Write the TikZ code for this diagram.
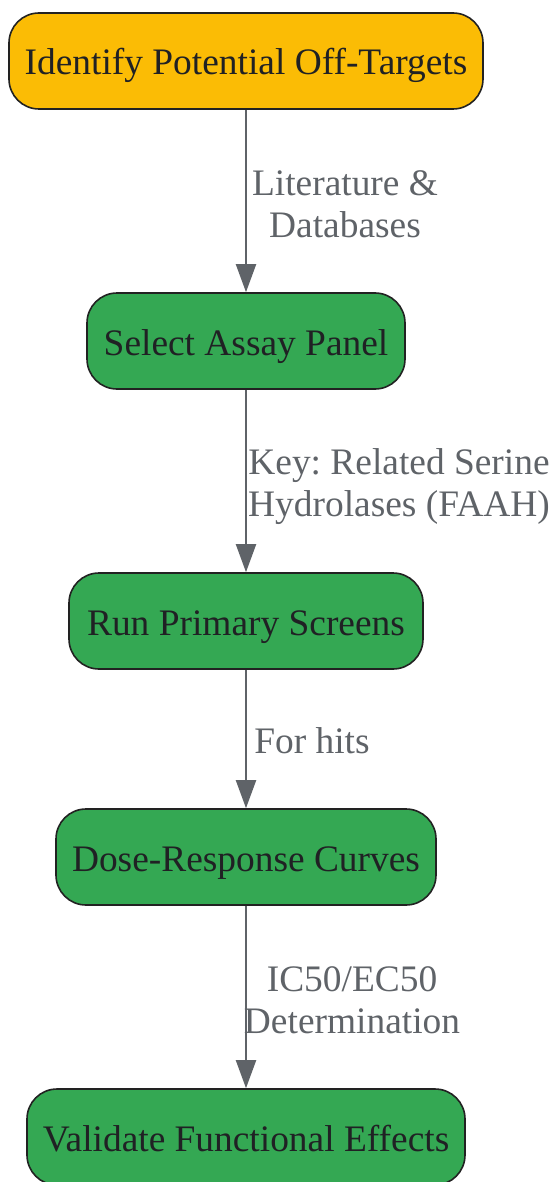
\documentclass[tikz,border=0pt]{standalone}
\usepackage{fontspec}
\setmainfont{Liberation Serif}
\usetikzlibrary{arrows.meta}
\frenchspacing
\definecolor{boxyellow}{HTML}{FBBC05}
\definecolor{boxgreen}{HTML}{34A853}
\definecolor{boxline}{HTML}{222222}
\definecolor{edgegray}{HTML}{5F6368}
\definecolor{textdark}{HTML}{202124}
\tikzset{
  flowbox/.style={draw=boxline, line width=1.6pt, rounded corners=30pt, text=textdark,
    font=\fontsize{37.4}{42}\selectfont, anchor=center, inner sep=0pt,
    text height=28pt, text depth=0pt, minimum height=96pt},
  edgelabel/.style={text=edgegray, font=\fontsize{37.4}{42}\selectfont, inner sep=0pt, anchor=base},
  flowarrow/.style={draw=edgegray, line width=2pt, -{Triangle[width=20pt,length=28pt]}, edgegray}
}
\newcommand{\lbllines}[1]{\begin{tabular}[t]{@{}c@{}}#1\end{tabular}}
\begin{document}
\begin{tikzpicture}[x=1pt,y=-1pt]
\useasboundingbox (0,0) rectangle (555,1182);
\node[flowbox, fill=boxyellow, minimum width=474pt] (n1) at (246,61) {Identify Potential Off-Targets};
\node[flowbox, fill=boxgreen, minimum width=318pt] (n2) at (246,341) {Select Assay Panel};
\node[flowbox, fill=boxgreen, minimum width=354pt] (n3) at (246,621) {Run Primary Screens};
\node[flowbox, fill=boxgreen, minimum width=380pt] (n4) at (246,857) {Dose-Response Curves};
\node[flowbox, fill=boxgreen, minimum width=438pt] (n5) at (246,1137) {Validate Functional Effects};
\draw[flowarrow] (n1.south) -- (n2.north);
\draw[flowarrow] (n2.south) -- (n3.north);
\draw[flowarrow] (n3.south) -- (n4.north);
\draw[flowarrow] (n4.south) -- (n5.north);
\node[edgelabel] (l1) at (345,196) {\lbllines{Literature \&\\Databases}};
\node[edgelabel] (l2) at (399,474) {\lbllines{Key: Related Serine\\Hydrolases (FAAH)}};
\node[edgelabel] (l3) at (312,753) {\lbllines{For hits}};
\node[edgelabel] (l4) at (352,991) {\lbllines{IC50/EC50\\Determination}};
\end{tikzpicture}
\end{document}
